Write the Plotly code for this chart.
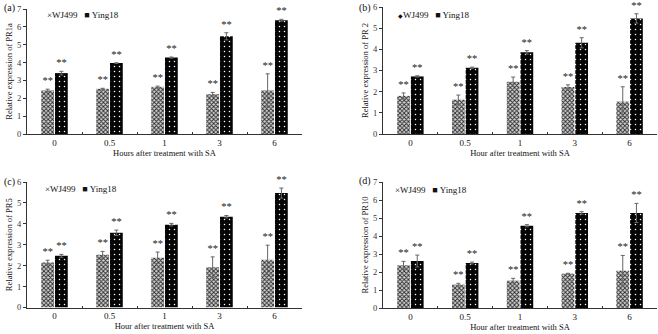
import plotly.graph_objects as go
from plotly.subplots import make_subplots

hours = ["0", "0.5", "1", "3", "6"]

pr1a_wj = [2.44, 2.53, 2.64, 2.23, 2.44]
pr1a_wj_err = [0.07, 0.03, 0.04, 0.10, 0.93]
pr1a_ying = [3.41, 3.97, 4.28, 5.47, 6.37]
pr1a_ying_err = [0.10, 0.02, 0.03, 0.20, 0.05]

pr2_wj = [1.80, 1.62, 2.47, 2.22, 1.53]
pr2_wj_err = [0.14, 0.22, 0.22, 0.10, 0.70]
pr2_ying = [2.72, 3.13, 3.86, 4.31, 5.46]
pr2_ying_err = [0.03, 0.03, 0.08, 0.24, 0.22]

pr5_wj = [2.15, 2.52, 2.38, 1.93, 2.28]
pr5_wj_err = [0.11, 0.16, 0.27, 0.49, 0.70]
pr5_ying = [2.47, 3.57, 3.96, 4.34, 5.47]
pr5_ying_err = [0.07, 0.13, 0.06, 0.06, 0.24]

pr10_wj = [2.37, 1.30, 1.52, 1.91, 2.07]
pr10_wj_err = [0.22, 0.07, 0.13, 0.02, 0.85]
pr10_ying = [2.61, 2.50, 4.57, 5.28, 5.28]
pr10_ying_err = [0.33, 0.05, 0.06, 0.07, 0.53]

panel_labels = ["(a)", "(b)", "(c)", "(d)"]
y_titles = ["Relative expression of PR1a", "Relative expression of PR 2",
            "Relative expression of PR5", "Relative expression of PR10"]
x_titles = ["Hours after treatment with SA", "Hour after treatment with SA",
            "Hour after treatment with SA", "Hour after treatment with SA"]
y_max = [7, 6, 6, 7]
legend_marks = ["×", "<span style='font-size:6px'>◆</span>", "×", "×"]
sig_mark = "**"

panels = [
    (pr1a_wj, pr1a_wj_err, pr1a_ying, pr1a_ying_err),
    (pr2_wj, pr2_wj_err, pr2_ying, pr2_ying_err),
    (pr5_wj, pr5_wj_err, pr5_ying, pr5_ying_err),
    (pr10_wj, pr10_wj_err, pr10_ying, pr10_ying_err),
]

W, H = 658, 334
FONT = "Liberation Serif"

# pixel boxes (left, right, top, bottom)
boxes = [(27, 302, 9, 134), (383, 657, 7, 134), (27, 302, 182, 307.5), (383, 657, 182, 308)]

fig = make_subplots(rows=2, cols=2)
positions = [(1, 1), (1, 2), (2, 1), (2, 2)]

wj_pattern = dict(shape="x", size=3, solidity=0.5, fgcolor="#2a2a2a", bgcolor="#d4d4d4", fillmode="replace")
ying_pattern = dict(shape=".", size=5, solidity=0.07, fgcolor="#ffffff", bgcolor="#050505", fillmode="replace")

for i, (wj, wje, yg, yge) in enumerate(panels):
    r, c = positions[i]
    fig.add_trace(go.Bar(
        x=hours, y=wj, name="WJ499", offsetgroup="wj", showlegend=False,
        marker=dict(color="#888888", pattern=wj_pattern, line=dict(width=0)),
        error_y=dict(type="data", array=wje, color="#666666", thickness=1, width=2),
    ), row=r, col=c)
    fig.add_trace(go.Bar(
        x=hours, y=yg, name="Ying18", offsetgroup="yg", showlegend=False,
        marker=dict(color="#050505", pattern=ying_pattern, line=dict(width=0)),
        error_y=dict(type="data", array=yge, color="#666666", thickness=1, width=2),
    ), row=r, col=c)
    # significance marks placed above error bars
    fig.add_trace(go.Bar(
        x=hours, y=[0.001] * len(hours), base=[v + e for v, e in zip(wj, wje)],
        offsetgroup="wj", showlegend=False, hoverinfo="skip",
        marker=dict(color="rgba(0,0,0,0)", line=dict(width=0)),
        text=[sig_mark] * len(hours), textposition="outside", textangle=0,
        textfont=dict(family=FONT, size=10.5, color="#1a1a1a"), cliponaxis=False,
    ), row=r, col=c)
    fig.add_trace(go.Bar(
        x=hours, y=[0.001] * len(hours), base=[v + e for v, e in zip(yg, yge)],
        offsetgroup="yg", showlegend=False, hoverinfo="skip",
        marker=dict(color="rgba(0,0,0,0)", line=dict(width=0)),
        text=[sig_mark] * len(hours), textposition="outside", textangle=0,
        textfont=dict(family=FONT, size=10.5, color="#1a1a1a"), cliponaxis=False,
    ), row=r, col=c)

for i in range(4):
    l, rr, t, b = boxes[i]
    sfx = "" if i == 0 else str(i + 1)
    fig.layout["xaxis" + sfx].update(
        domain=[l / W, rr / W], type="category", showline=True, linecolor="#333333", linewidth=1,
        ticks="inside", ticklen=2, tickson="boundaries", tickcolor="#333333",
        showgrid=False, zeroline=False, automargin=False,
        tickfont=dict(family=FONT, size=9, color="#111111"),
        title=dict(text=x_titles[i], font=dict(family=FONT, size=8.5, color="#111111"), standoff=2),
    )
    fig.layout["yaxis" + sfx].update(
        domain=[1 - b / H, 1 - t / H], range=[0, y_max[i]], dtick=1, showline=True,
        linecolor="#333333", linewidth=1, ticks="outside", ticklen=3, tickcolor="#333333",
        showgrid=False, zeroline=False, automargin=False,
        tickfont=dict(family=FONT, size=8.5, color="#333333"),
        title=dict(text=y_titles[i], font=dict(family=FONT, size=8.5, color="#111111"), standoff=3),
    )

label_pos = [(2, 8), (357, 8), (2, 182), (357, 181)]
legend_pos = [(45, 15), (396, 15), (43, 189), (393, 190)]
annotations = []
for i in range(4):
    lx, ly = label_pos[i]
    annotations.append(dict(text=panel_labels[i], x=lx / W, y=1 - ly / H, xref="paper", yref="paper",
                            xanchor="left", yanchor="middle", showarrow=False,
                            font=dict(family=FONT, size=10, color="#111111")))
    gx, gy = legend_pos[i]
    annotations.append(dict(text=legend_marks[i] + "WJ499&nbsp;&nbsp;&nbsp;■ Ying18",
                            x=gx / W, y=1 - gy / H, xref="paper", yref="paper",
                            xanchor="left", yanchor="middle", showarrow=False,
                            font=dict(family=FONT, size=9, color="#111111")))

fig.update_layout(
    width=W, height=H, margin=dict(l=0, r=0, t=0, b=0),
    paper_bgcolor="white", plot_bgcolor="white",
    barmode="group", bargap=0.5, bargroupgap=0.07,
    annotations=annotations, showlegend=False,
    font=dict(family=FONT),
)

fig.write_html("out.html", config={"displayModeBar": False},
               post_script="document.body.style.margin='0';document.body.style.overflow='hidden';")
